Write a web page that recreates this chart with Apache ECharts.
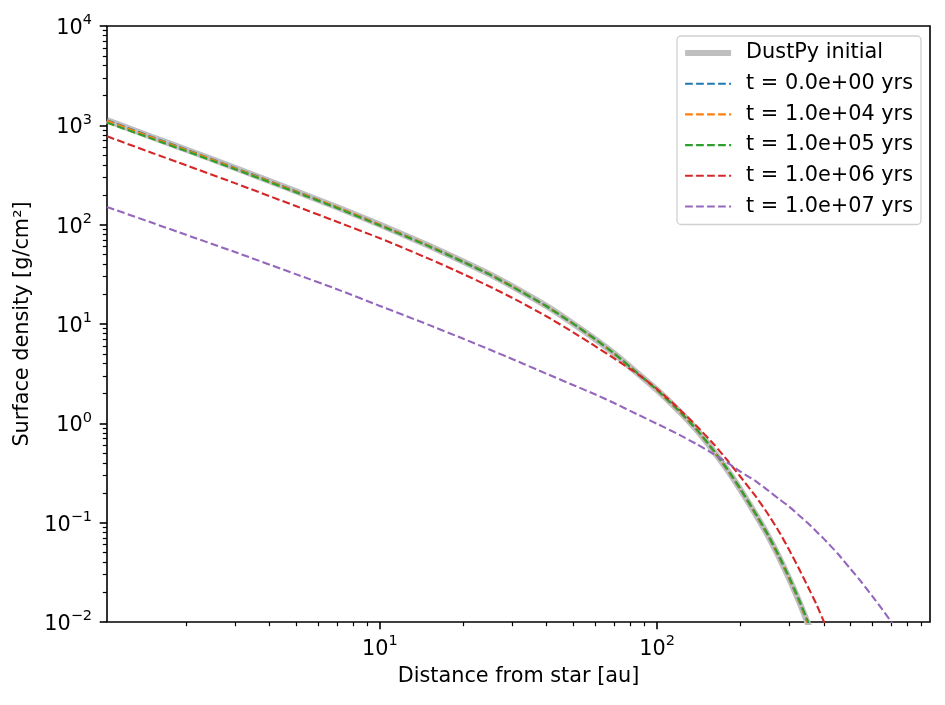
<!DOCTYPE html>
<html>
<head>
<meta charset="utf-8">
<script src="https://cdn.jsdelivr.net/npm/echarts@6/dist/echarts.min.js"></script>
<style>
html,body{margin:0;padding:0;background:#fff}
#main{width:945px;height:705px}
</style>
</head>
<body>
<div id="main"></div>
<script>
// radius grid (au)
var radius = [1.036, 1.5, 2, 3, 5, 7, 10, 15, 20, 25, 30, 40, 50, 60, 70, 85, 100, 120, 140, 160, 180, 200, 225, 250, 275, 300, 325, 350, 375, 400, 450, 500, 550, 600, 650, 700, 750, 800];

// surface density, g/cm^2
var sigmaInit = [1125, 765, 570, 373, 216, 150, 100, 61.5, 42.5, 31.5, 24, 15.1, 10.0, 7.0, 5.05, 3.2, 2.17, 1.33, 0.84, 0.525, 0.335, 0.215, 0.126, 0.076, 0.0455, 0.0272, 0.0163, 0.0097, 0.0058, 0.0035, 0.0012, 0.0005, 0.0002, 0.00008, 0.00003, 0.00001, 0.000004, 0.000002];
var sigmaT0 = [1125, 765, 570, 373, 216, 150, 100, 61.5, 42.5, 31.5, 24, 15.1, 10.0, 7.0, 5.05, 3.2, 2.17, 1.33, 0.84, 0.525, 0.335, 0.215, 0.126, 0.076, 0.0455, 0.0272, 0.0163, 0.0097, 0.0058, 0.0035, 0.0012, 0.0005, 0.0002, 0.00008, 0.00003, 0.00001, 0.000004, 0.000002];
var sigmaT4 = [1110, 757, 565, 370, 215, 149.5, 99.8, 61.4, 42.4, 31.5, 24, 15.1, 10.0, 7.0, 5.05, 3.2, 2.17, 1.33, 0.845, 0.528, 0.337, 0.217, 0.127, 0.0768, 0.046, 0.0275, 0.0165, 0.0098, 0.0059, 0.0036, 0.0012, 0.0005, 0.0002, 0.00008, 0.00003, 0.00001, 0.000004, 0.000002];
var sigmaT5 = [1065, 735, 550, 362, 211, 147, 98, 60.5, 42, 31.2, 23.8, 15.0, 10.0, 7.0, 5.05, 3.2, 2.17, 1.34, 0.85, 0.535, 0.342, 0.22, 0.129, 0.078, 0.047, 0.0282, 0.017, 0.0102, 0.0062, 0.0037, 0.0013, 0.0005, 0.0002, 0.00008, 0.00003, 0.00001, 0.000004, 0.000002];
var sigmaT6 = [776, 530, 396, 262, 153, 107, 73, 45.5, 31.8, 23.7, 18.4, 11.9, 8.2, 5.95, 4.5, 3.15, 2.22, 1.4, 0.92, 0.62, 0.42, 0.29, 0.19, 0.125, 0.082, 0.053, 0.0345, 0.0228, 0.0153, 0.0101, 0.0045, 0.0018, 0.0007, 0.00025, 0.0001, 0.00004, 0.00002, 0.00001];
var sigmaT7 = [151, 105, 79, 53, 31.6, 22.4, 15.2, 9.8, 7.1, 5.5, 4.45, 3.15, 2.42, 1.95, 1.6, 1.23, 0.99, 0.77, 0.61, 0.49, 0.40, 0.326, 0.266, 0.214, 0.1735, 0.145, 0.119, 0.099, 0.0821, 0.0687, 0.0484, 0.034, 0.0247, 0.018, 0.0134, 0.0100, 0.0074, 0.0054];

var seriesNames = ['DustPy initial', 't = 0.0e+00 yrs', 't = 1.0e+04 yrs', 't = 1.0e+05 yrs', 't = 1.0e+06 yrs', 't = 1.0e+07 yrs'];
var seriesData = [sigmaInit, sigmaT0, sigmaT4, sigmaT5, sigmaT6, sigmaT7];
var seriesColors = ['#bfbfbf', '#1f77b4', '#ff7f0e', '#2ca02c', '#d62728', '#9467bd'];

// ticks
var xMajor = [10, 100];
var yMajor = [0.01, 0.1, 1, 10, 100, 1000, 10000];
var xRange = [1.036, 966];
var yRange = [0.01, 10000];

var FONT = 'DejaVu Sans';

function minorTicks(lo, hi, range) {
	var out = [];
	for (var d = lo; d < hi; d++) {
		for (var k = 2; k <= 9; k++) {
			var v = k * Math.pow(10, d);
			if (v >= range[0] && v <= range[1]) out.push(v);
		}
	}
	return out;
}
var xMinor = minorTicks(0, 3, xRange);
var yMinor = minorTicks(-2, 4, yRange);

function powLabel(v) {
	var e = Math.round(Math.log(v) / Math.LN10);
	var s = e < 0 ? '\u2212' + (-e) : '' + e;
	return '{b|10}{e|' + s + '}';
}
var richLabel = {
	b: {fontSize: 20.8, fontFamily: FONT, color: '#000', lineHeight: 26, verticalAlign: 'bottom'},
	e: {fontSize: 14.5, fontFamily: FONT, color: '#000', lineHeight: 12, verticalAlign: 'top'}
};

var series = [];
for (var i = 0; i < seriesNames.length; i++) {
	var pts = [];
	for (var j = 0; j < radius.length; j++) {
		pts.push([radius[j], seriesData[i][j]]);
	}
	series.push({
		name: seriesNames[i],
		type: 'line',
		xAxisIndex: 0,
		yAxisIndex: 0,
		symbol: 'none',
		showSymbol: false,
		smooth: 0.15,
		clip: true,
		lineStyle: i == 0 ? {color: seriesColors[i], width: 6.2, type: 'solid'}
			: {color: seriesColors[i], width: 2.1, type: [7.7, 3.3]},
		itemStyle: {color: seriesColors[i]},
		emphasis: {disabled: true},
		data: pts
	});
}

var myChart = echarts.init(document.getElementById('main'), null, {renderer: 'canvas'});
var option = {
	animation: false,
	backgroundColor: '#fff',
	textStyle: {fontFamily: FONT},
	grid: {
		left: 107, right: 15, top: 26, bottom: 83,
		show: true, borderColor: '#000', borderWidth: 1.6, backgroundColor: 'transparent',
		containLabel: false
	},
	legend: {
		orient: 'vertical',
		left: 677, top: 36,
		padding: [5, 8, 6, 5],
		itemWidth: 46, itemHeight: 14, itemGap: 6.7,
		backgroundColor: '#fff',
		borderColor: '#d0d0d0', borderWidth: 1.3, borderRadius: 4,
		lineStyle: {width: 'inherit'},
		itemStyle: {color: 'rgba(0,0,0,0)', borderWidth: 0, opacity: 0},
		textStyle: {fontSize: 20.8, fontFamily: FONT, color: '#000', lineHeight: 24, padding: [0, 0, 0, 10]},
		data: seriesNames
	},
	xAxis: [
		{
			type: 'log', logBase: 10, min: xRange[0], max: xRange[1], position: 'bottom',
			name: 'Distance from star [au]', nameLocation: 'middle', nameGap: 44,
			nameTextStyle: {fontSize: 20.8, fontFamily: FONT, color: '#000'},
			axisLine: {show: false},
			axisTick: {show: true, inside: false, length: 7.3, customValues: xMajor, lineStyle: {color: '#000', width: 1.6}},
			axisLabel: {show: true, margin: 12, customValues: xMajor, formatter: powLabel, rich: richLabel},
			splitLine: {show: false}
		},
		{
			type: 'log', logBase: 10, min: xRange[0], max: xRange[1], position: 'bottom', offset: 0,
			axisLine: {show: false},
			axisTick: {show: true, inside: false, length: 4.2, customValues: xMinor, lineStyle: {color: '#000', width: 1.2}},
			axisLabel: {show: false},
			splitLine: {show: false}
		}
	],
	yAxis: [
		{
			type: 'log', logBase: 10, min: yRange[0], max: yRange[1], position: 'left',
			name: 'Surface density [g/cm\u00b2]', nameLocation: 'middle', nameGap: 70,
			nameTextStyle: {fontSize: 20.8, fontFamily: FONT, color: '#000'},
			axisLine: {show: false},
			axisTick: {show: true, inside: false, length: 7.3, customValues: yMajor, lineStyle: {color: '#000', width: 1.6}},
			axisLabel: {show: true, margin: 15, customValues: yMajor, formatter: powLabel, rich: richLabel},
			splitLine: {show: false}
		},
		{
			type: 'log', logBase: 10, min: yRange[0], max: yRange[1], position: 'left', offset: 0,
			axisLine: {show: false},
			axisTick: {show: true, inside: false, length: 4.2, customValues: yMinor, lineStyle: {color: '#000', width: 1.2}},
			axisLabel: {show: false},
			splitLine: {show: false}
		}
	],
	series: series
};
myChart.setOption(option);
</script>
</body>
</html>
